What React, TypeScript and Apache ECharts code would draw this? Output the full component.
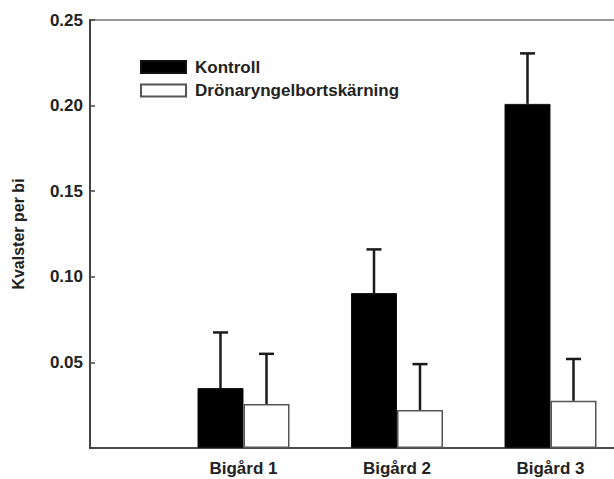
import React, { useEffect, useRef } from "react";
import * as echarts from "echarts";

const categories = ["", "Bigård 1", "Bigård 2", "Bigård 3", ""];
const seriesNames = ["Kontroll", "Drönaryngelbortskärning"];
const kontroll: (number | string)[] = ["-", 0.035, 0.0905, 0.201, "-"];
const kontrollUpper: (number | null)[] = [null, 0.0675, 0.116, 0.2305, null];
const dronar: (number | string)[] = ["-", 0.0257, 0.0222, 0.0276, "-"];
const dronarUpper: (number | null)[] = [null, 0.055, 0.049, 0.052, null];
const yTicks = { min: 0, max: 0.25, interval: 0.05 };

const FONT = "'Liberation Sans', Arial, sans-serif";
const BAR_W = 46;

function errData(means: (number | string)[], uppers: (number | null)[]) {
  const out: number[][] = [];
  means.forEach((m, i) => {
    const u = uppers[i];
    if (typeof m === "number" && u != null) out.push([i, m, u]);
  });
  return out;
}

function errSeries(data: number[][], offset: number) {
  return {
    type: "custom",
    z: 5,
    silent: true,
    data,
    encode: { x: 0, y: [1, 2] },
    renderItem: (params: any, api: any) => {
      const idx = api.value(0);
      const base = api.coord([idx, api.value(1)]);
      const top = api.coord([idx, api.value(2)]);
      const x = base[0] + offset;
      const style = { stroke: "#1a1a1a", lineWidth: 2.5 };
      return {
        type: "group",
        children: [
          { type: "line", shape: { x1: x, y1: base[1], x2: x, y2: top[1] }, style },
          { type: "line", shape: { x1: x - 7.5, y1: top[1], x2: x + 7.5, y2: top[1] }, style },
        ],
      };
    },
  };
}

export default function App() {
  const ref = useRef<HTMLDivElement>(null);
  useEffect(() => {
    if (!ref.current) return;
    const chart = echarts.init(ref.current, null, { renderer: "svg" });
    chart.setOption({
      animation: false,
      backgroundColor: "#fff",
      textStyle: { fontFamily: FONT },
      grid: {
        left: 90,
        top: 20,
        bottom: 31,
        right: -90,
        containLabel: false,
        outerBoundsMode: "none",
        show: true,
        borderColor: "#777",
        borderWidth: 1.5,
      },
      legend: {
        orient: "vertical",
        left: 135,
        top: 53,
        itemWidth: 45,
        itemHeight: 12,
        itemGap: 5.5,
        icon: "rect",
        data: seriesNames,
        textStyle: {
          fontFamily: FONT,
          fontWeight: "bold",
          fontSize: 17,
          color: "#222",
          lineHeight: 18,
          padding: [0, 0, 0, 4],
        },
      },
      xAxis: {
        type: "category",
        data: categories,
        boundaryGap: false,
        axisLine: { lineStyle: { color: "#333", width: 1.5 } },
        axisTick: { show: false },
        splitLine: { show: false },
        axisLabel: {
          margin: 12,
          fontFamily: FONT,
          fontWeight: "bold",
          fontSize: 17,
          color: "#222",
        },
      },
      yAxis: {
        type: "value",
        min: yTicks.min,
        max: yTicks.max,
        interval: yTicks.interval,
        name: "Kvalster per bi",
        nameLocation: "middle",
        nameGap: 64,
        nameTextStyle: {
          fontFamily: FONT,
          fontWeight: "bold",
          fontSize: 16,
          color: "#222",
        },
        axisLine: { show: true, lineStyle: { color: "#444", width: 2 } },
        axisTick: { show: true, inside: true, length: 5, lineStyle: { color: "#444", width: 1.5 } },
        splitLine: { show: false },
        axisLabel: {
          margin: 7,
          fontFamily: FONT,
          fontWeight: "bold",
          fontSize: 17,
          color: "#222",
          formatter: (v: number) => (v === 0 ? "" : v.toFixed(2)),
        },
      },
      series: [
        {
          name: seriesNames[0],
          type: "bar",
          data: kontroll,
          barWidth: BAR_W,
          barGap: "0%",
          itemStyle: { color: "#000", borderColor: "#111", borderWidth: 1 },
        },
        {
          name: seriesNames[1],
          type: "bar",
          data: dronar,
          barWidth: BAR_W,
          barGap: "0%",
          itemStyle: { color: "#fff", borderColor: "#555", borderWidth: 1.5 },
        },
        errSeries(errData(kontroll, kontrollUpper), -BAR_W / 2),
        errSeries(errData(dronar, dronarUpper), BAR_W / 2),
      ],
    });
    return () => chart.dispose();
  }, []);
  return (
    <div
      ref={ref}
      style={{ position: "fixed", left: 0, top: 0, width: 614, height: 479 }}
    />
  );
}
